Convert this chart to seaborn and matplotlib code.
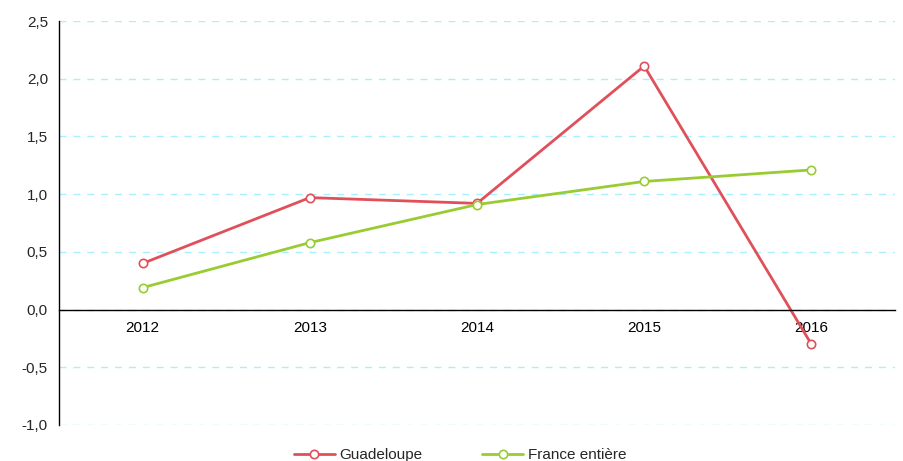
import matplotlib
matplotlib.use("Agg")
import matplotlib.pyplot as plt
import seaborn as sns
import pandas as pd
from matplotlib.ticker import MultipleLocator, FuncFormatter
from matplotlib.lines import Line2D

years = ["2012", "2013", "2014", "2015", "2016"]
guadeloupe = [0.40, 0.97, 0.92, 2.11, -0.30]
france = [0.19, 0.58, 0.91, 1.11, 1.21]
series_names = ["Guadeloupe", "France entière"]
colors = ["#e0505a", "#99cc33"]

df = pd.DataFrame({
    "year": years * 2,
    "value": guadeloupe + france,
    "series": [series_names[0]] * len(years) + [series_names[1]] * len(years),
})

sns.set_style("white")
plt.rcParams["font.family"] = ["Liberation Sans", "DejaVu Sans"]
plt.rcParams["font.size"] = 11

fig = plt.figure(figsize=(9.04, 4.61), dpi=100)
ax = fig.add_axes([0.0653, 0.0781, 0.9247, 0.8763])

sns.lineplot(data=df, x="year", y="value", hue="series", hue_order=series_names,
             palette=colors, marker="o", markersize=6, linewidth=2, sort=False, ax=ax,
             legend=False)

for line, c in zip(ax.lines, colors):
    line.set_markerfacecolor("white")
    line.set_markeredgecolor(c)
    line.set_markeredgewidth(1.2)

ax.set_xlim(-0.5, 4.5)
ax.set_ylim(-1.0, 2.5)
ax.yaxis.set_major_locator(MultipleLocator(0.5))
ax.yaxis.set_major_formatter(FuncFormatter(lambda v, p: f"{v:.1f}".replace(".", ",")))
ax.grid(axis="y", color="#a8f0ff", linestyle=(0, (5, 5)), linewidth=1)
ax.set_axisbelow(True)

for s in ["top", "right"]:
    ax.spines[s].set_visible(False)
ax.spines["bottom"].set_position(("data", 0))
ax.spines["left"].set_color("black")
ax.spines["bottom"].set_color("black")
ax.spines["left"].set_linewidth(1)
ax.spines["bottom"].set_linewidth(1)

ax.set_xticks(range(len(years)))
ax.set_xticklabels(years)
ax.set_xticks([0.5, 1.5, 2.5, 3.5, 4.5], minor=True)
ax.tick_params(axis="x", which="major", length=0, pad=8, labelsize=11, colors="black")
ax.tick_params(axis="x", which="minor", length=5, direction="out", color="black")
ax.tick_params(axis="y", which="major", length=5, direction="out", color="black", labelsize=11, pad=3)
ax.set_xlabel("")
ax.set_ylabel("")

handles = [Line2D([], [], color=c, linewidth=2, marker="o", markersize=6,
                  markerfacecolor="white", markeredgecolor=c, markeredgewidth=1.2)
           for c in colors]
fig.legend(handles, series_names, loc="lower center", bbox_to_anchor=(0.509, -0.033), ncol=2,
           frameon=False, handlelength=2.7, columnspacing=3.9, fontsize=11, handletextpad=0.3)

fig.savefig("out.png", dpi=100)
